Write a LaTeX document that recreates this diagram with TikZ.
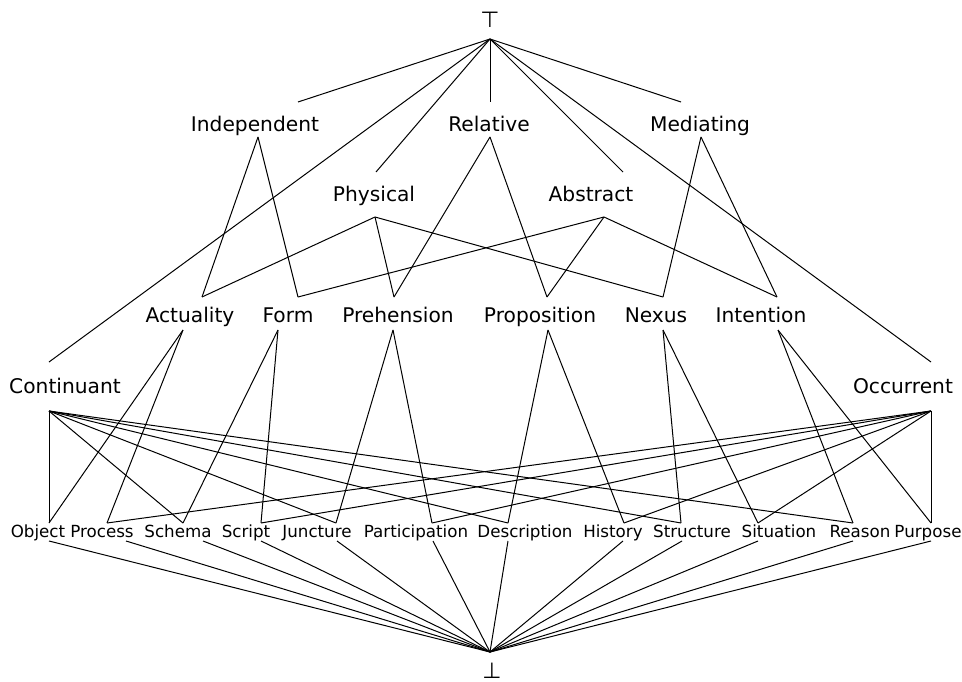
\documentclass[tikz,border=0pt]{standalone}
\usepackage{fontspec}
\setmainfont{DejaVu Sans}
\usetikzlibrary{calc}

\begin{document}
\begin{tikzpicture}[x=1pt, y=-1pt, line width=1pt,
    upper/.style={font=\fontsize{20.2}{24}\selectfont, inner sep=0pt, anchor=base},
    lower/.style={font=\fontsize{16.7}{20}\selectfont, inner sep=0pt, anchor=base},
    symb/.style={font=\fontsize{22}{26}\selectfont, inner sep=0pt, anchor=base}]
    \useasboundingbox (0,0) rectangle (962,682);

    \node[symb] (top) at (490,28) {⊤};
    \coordinate (xtop) at (490,39);
    \node[symb] (bot) at (492,678) {⊥};
    \coordinate (xbot) at (490,652);

    % label x/baseline, top end, bottom end, name, text
    \foreach \x/\y/\tx/\ty/\bx/\by/\n/\t in {255/132/298/102/258/137/ind/Independent,
        489/132/490/102/490/137/rel/Relative, 700/132/681/102/701/137/med/Mediating,
        374/202/376/172/375/217/phy/Physical, 591/202/623/172/604/217/abs/Abstract,
        190/322/202/297/183/330/act/Actuality, 288/322/298/297/278/330/frm/Form,
        398/322/394/297/393/330/pre/Prehension, 540/322/547/297/548/330/pro/Proposition,
        656/322/663/297/663/330/nex/Nexus, 761/322/777/297/778/330/int/Intention,
        65/393/49/362/49/411/con/Continuant, 903/393/931/362/931/411/occ/Occurrent} {
        \node[upper] (\n) at (\x,\y) {\t};
        \coordinate (\n-t) at (\tx,\ty);
        \coordinate (\n-b) at (\bx,\by);}

    \foreach \x/\tx/\bx/\n/\t in {38/49/49/obj/Object, 102/107/126/prc/Process,
        178/183/203/sch/Schema, 246/261/261/scr/Script, 317/336/337/jun/Juncture,
        416/432/433/par/Participation, 525/508/508/des/Description, 613/624/623/his/History,
        692/681/682/str/Structure, 779/758/758/sit/Situation, 860/853/853/rea/Reason,
        928/931/931/pur/Purpose} {
        \node[lower] (\n) at (\x,537) {\t};
        \coordinate (\n-t) at (\tx,523);
        \coordinate (\n-b) at (\bx,541);
        \draw (\n-b) -- (xbot);}

    \foreach \n in {ind,rel,med,phy,abs,con,occ}
        \draw (xtop) -- (\n-t);

    \foreach \a/\b in {ind/act,ind/frm,rel/pre,rel/pro,med/nex,med/int,
        phy/act,phy/pre,phy/nex,abs/frm,abs/pro,abs/int,
        act/obj,act/prc,frm/sch,frm/scr,pre/jun,pre/par,
        pro/des,pro/his,nex/str,nex/sit,int/rea,int/pur,
        con/obj,con/sch,con/jun,con/des,con/str,con/rea,
        occ/prc,occ/scr,occ/par,occ/his,occ/sit,occ/pur}
        \draw (\a-b) -- (\b-t);
\end{tikzpicture}
\end{document}
